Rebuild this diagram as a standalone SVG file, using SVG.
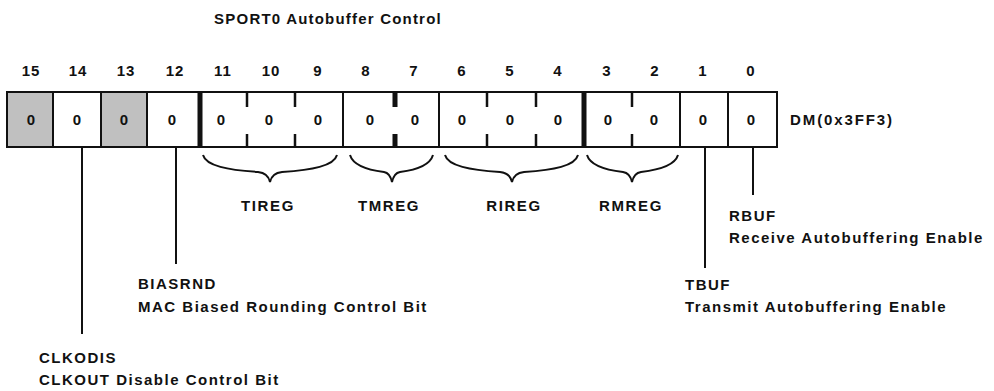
<svg xmlns="http://www.w3.org/2000/svg" width="994" height="391" viewBox="0 0 994 391">
  <style>
    text { font-family: "Liberation Sans", Arial, sans-serif; font-weight: bold; fill: #111; }
    .title { font-size: 15px; letter-spacing: 1.2px; }
    .num { font-size: 15px; letter-spacing: 1px; text-anchor: middle; }
    .val { font-size: 15px; text-anchor: middle; }
    .lbl { font-size: 15px; letter-spacing: 1.5px; }
    .reg { font-size: 15px; letter-spacing: 1.9px; }
    .grp { font-size: 15px; letter-spacing: 1.6px; text-anchor: middle; }
    .cell { fill: #fff; stroke: none; }
    .gray { fill: #c0c0c0; }
    .thin { stroke: #111; stroke-width: 2; fill: none; }
    .thick { stroke: #111; stroke-width: 5; fill: none; }
    .tick { stroke: #111; stroke-width: 2.5; fill: none; }
    .brace { stroke: #111; stroke-width: 2; fill: none; }
  </style>

  <text class="title" x="328" y="24" text-anchor="middle">SPORT0 Autobuffer Control</text>

  <!-- bit numbers -->
  <g id="bit-numbers">
    <text class="num" x="31" y="76">15</text>
    <text class="num" x="78" y="76">14</text>
    <text class="num" x="126" y="76">13</text>
    <text class="num" x="175" y="76">12</text>
    <text class="num" x="223" y="76">11</text>
    <text class="num" x="271" y="76">10</text>
    <text class="num" x="318" y="76">9</text>
    <text class="num" x="366" y="76">8</text>
    <text class="num" x="414" y="76">7</text>
    <text class="num" x="462" y="76">6</text>
    <text class="num" x="510" y="76">5</text>
    <text class="num" x="558" y="76">4</text>
    <text class="num" x="607" y="76">3</text>
    <text class="num" x="655" y="76">2</text>
    <text class="num" x="703" y="76">1</text>
    <text class="num" x="751" y="76">0</text>
  </g>

  <!-- register body -->
  <g id="register">
    <rect class="cell" x="7" y="92" width="770" height="55"/>
    <rect class="gray" x="7" y="92" width="46" height="55"/>
    <rect class="gray" x="101" y="92" width="46" height="55"/>
    <rect class="thin" x="7" y="92" width="770" height="55"/>
    <!-- full dividers -->
    <path class="thin" d="M53 92V147M101 92V147M147 92V147M343 92V147M439 92V147M680 92V147M728 92V147"/>
    <path class="thick" d="M200 92V147M584 92V147"/>
    <!-- partial dividers inside fields -->
    <path class="tick" d="M247 92V107M247 134V147M295 92V107M295 134V147M487 92V107M487 134V147M536 92V107M536 134V147M632 92V107M632 134V147"/>
    <path class="thick" d="M395 92V107M395 134V147"/>
    <!-- bit values -->
    <text class="val" x="31" y="125">0</text>
    <text class="val" x="77" y="125">0</text>
    <text class="val" x="124" y="125">0</text>
    <text class="val" x="172" y="125">0</text>
    <text class="val" x="221" y="125">0</text>
    <text class="val" x="269" y="125">0</text>
    <text class="val" x="318" y="125">0</text>
    <text class="val" x="370" y="125">0</text>
    <text class="val" x="415" y="125">0</text>
    <text class="val" x="462" y="125">0</text>
    <text class="val" x="510" y="125">0</text>
    <text class="val" x="558" y="125">0</text>
    <text class="val" x="608" y="125">0</text>
    <text class="val" x="654" y="125">0</text>
    <text class="val" x="703" y="125">0</text>
    <text class="val" x="751" y="125">0</text>
    <text class="reg" x="790" y="125">DM(0x3FF3)</text>
  </g>

  <!-- connectors: leader lines and braces -->
  <g id="connectors">
    <path class="thin" d="M82 147V334M176 147V264M705 147V268M753 147V195"/>
    <path class="brace" d="M203 155C206 166 228 170 258 172Q268 173 270 182Q272 173 282 172C312 170 334 166 337 155"/>
    <path class="brace" d="M350 155C353 165 368 170 384 172Q390 173 392 182Q394 173 400 172C416 170 430 165 433 155"/>
    <path class="brace" d="M445 155C448 166 470 170 500 172Q510 173 512 182Q514 173 524 172C554 170 575 166 578 155"/>
    <path class="brace" d="M587 155C590 165 606 170 623 172Q630 173 632 182Q634 173 641 172C658 170 675 165 678 155"/>
  </g>

  <g id="field-tireg"><text class="grp" x="268" y="211">TIREG</text></g>
  <g id="field-tmreg"><text class="grp" x="389" y="211">TMREG</text></g>
  <g id="field-rireg"><text class="grp" x="514" y="211">RIREG</text></g>
  <g id="field-rmreg"><text class="grp" x="631" y="211">RMREG</text></g>

  <g id="bit-rbuf">
    <text class="lbl" x="729" y="221">RBUF</text>
    <text class="lbl" x="729" y="243">Receive Autobuffering Enable</text>
  </g>
  <g id="bit-tbuf">
    <text class="lbl" x="685" y="290">TBUF</text>
    <text class="lbl" x="685" y="312">Transmit Autobuffering Enable</text>
  </g>
  <g id="bit-biasrnd">
    <text class="lbl" x="138" y="289">BIASRND</text>
    <text class="lbl" x="138" y="312">MAC Biased Rounding Control Bit</text>
  </g>
  <g id="bit-clkodis">
    <text class="lbl" x="39" y="363">CLKODIS</text>
    <text class="lbl" x="39" y="385">CLKOUT Disable Control Bit</text>
  </g>
</svg>
